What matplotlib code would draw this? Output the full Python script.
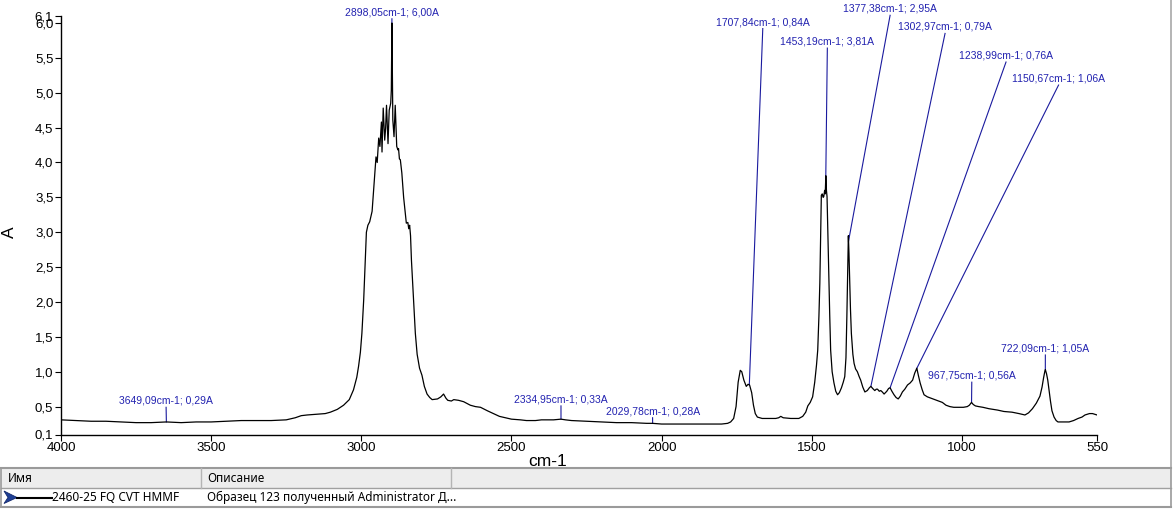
import numpy as np
import matplotlib.pyplot as plt
from matplotlib.patches import Rectangle, Polygon

# === Spectrum (cm-1, absorbance) ===
wavenumber = [
    4000, 3950, 3900, 3850, 3800, 3750, 3700, 3649, 3600, 3550, 3500, 3450, 3400, 3350,
    3300, 3250, 3220, 3200, 3180, 3150, 3120, 3103, 3080, 3059, 3040, 3026, 3015, 3009,
    3003, 2998, 2992, 2987, 2983, 2978, 2972, 2964, 2959, 2951, 2947, 2942, 2938, 2933,
    2931, 2927, 2922, 2919, 2916, 2911, 2907, 2902, 2900, 2898, 2895, 2891, 2887, 2882,
    2878, 2876, 2873, 2870, 2865, 2859, 2854, 2850, 2845, 2842, 2839, 2836, 2833, 2826,
    2820, 2814, 2806, 2798, 2790, 2781, 2772, 2764, 2746, 2735, 2726, 2718, 2712, 2700,
    2692, 2676, 2659, 2637, 2620, 2603, 2580, 2560, 2540, 2520, 2500, 2470, 2450, 2420,
    2400, 2380, 2360, 2335, 2320, 2300, 2250, 2200, 2150, 2100, 2050, 2030, 2000, 1950,
    1900, 1850, 1800, 1780, 1770, 1760, 1752, 1745, 1738, 1733, 1726, 1718, 1712, 1707,
    1700, 1694, 1688, 1681, 1665, 1640, 1620, 1610, 1603, 1595, 1570, 1543, 1530, 1520,
    1513, 1505, 1497, 1490, 1484, 1480, 1476, 1473, 1470, 1468, 1465, 1462, 1460, 1457,
    1455, 1453, 1451, 1449, 1447, 1444, 1440, 1437, 1432, 1426, 1420, 1414, 1408, 1401,
    1395, 1390, 1386, 1383, 1380, 1378, 1376, 1374, 1371, 1368, 1363, 1359, 1354, 1348,
    1342, 1337, 1330, 1323, 1315, 1308, 1303, 1297, 1290, 1285, 1281, 1275, 1270, 1265,
    1259, 1250, 1244, 1239, 1233, 1226, 1219, 1212, 1205, 1198, 1190, 1181, 1172, 1164,
    1157, 1150, 1145, 1139, 1132, 1126, 1115, 1103, 1090, 1077, 1065, 1053, 1040, 1027,
    1010, 995, 982, 975, 968, 962, 955, 944, 930, 910, 881, 860, 833, 810,
    790, 778, 765, 752, 740, 733, 728, 724, 722, 718, 714, 710, 705, 700,
    693, 686, 680, 665, 643, 628, 613, 600, 590, 575, 565, 550,
]
absorbance = [
    0.31, 0.30, 0.29, 0.29, 0.28, 0.27, 0.27, 0.28, 0.27, 0.28, 0.28, 0.29, 0.30, 0.30,
    0.30, 0.31, 0.34, 0.37, 0.38, 0.39, 0.40, 0.42, 0.46, 0.52, 0.60, 0.74, 0.92, 1.08,
    1.28, 1.55, 2.03, 2.55, 3.00, 3.10, 3.15, 3.30, 3.60, 4.08, 4.00, 4.35, 4.23, 4.58,
    4.15, 4.78, 4.32, 4.49, 4.82, 4.27, 4.75, 4.85, 5.04, 6.00, 4.61, 4.37, 4.82, 4.23,
    4.18, 4.20, 4.05, 4.04, 3.85, 3.50, 3.30, 3.13, 3.14, 3.05, 3.10, 2.95, 2.60, 2.05,
    1.55, 1.25, 1.05, 0.95, 0.79, 0.68, 0.63, 0.60, 0.61, 0.64, 0.68, 0.62, 0.59, 0.58,
    0.60, 0.59, 0.57, 0.52, 0.50, 0.49, 0.44, 0.40, 0.36, 0.34, 0.32, 0.31, 0.30, 0.30,
    0.31, 0.31, 0.31, 0.32, 0.31, 0.30, 0.29, 0.28, 0.27, 0.27, 0.26, 0.26, 0.25, 0.25,
    0.25, 0.25, 0.25, 0.26, 0.28, 0.33, 0.50, 0.85, 1.02, 1.00, 0.88, 0.79, 0.82, 0.81,
    0.70, 0.52, 0.40, 0.35, 0.33, 0.33, 0.33, 0.34, 0.36, 0.34, 0.33, 0.33, 0.36, 0.42,
    0.51, 0.56, 0.64, 0.85, 1.10, 1.31, 1.80, 2.27, 3.00, 3.53, 3.55, 3.50, 3.51, 3.60,
    3.55, 3.81, 3.60, 3.51, 3.10, 2.56, 1.80, 1.31, 1.00, 0.84, 0.72, 0.67, 0.70, 0.77,
    0.85, 0.93, 1.20, 1.79, 2.50, 2.95, 2.70, 2.36, 1.90, 1.55, 1.25, 1.12, 1.04, 1.00,
    0.93, 0.88, 0.78, 0.71, 0.73, 0.77, 0.79, 0.76, 0.73, 0.75, 0.75, 0.72, 0.73, 0.71,
    0.68, 0.72, 0.76, 0.77, 0.72, 0.67, 0.63, 0.61, 0.65, 0.71, 0.75, 0.81, 0.84, 0.88,
    0.98, 1.05, 0.95, 0.84, 0.74, 0.67, 0.64, 0.62, 0.60, 0.58, 0.56, 0.52, 0.50, 0.49,
    0.49, 0.49, 0.50, 0.52, 0.56, 0.53, 0.51, 0.50, 0.49, 0.47, 0.45, 0.43, 0.42, 0.40,
    0.38, 0.41, 0.47, 0.55, 0.65, 0.78, 0.91, 1.00, 1.03, 0.97, 0.88, 0.75, 0.58, 0.44,
    0.35, 0.30, 0.28, 0.28, 0.28, 0.30, 0.33, 0.35, 0.38, 0.40, 0.40, 0.38,
]

# === Peak picks ===
peak_wn = [3649.09, 2898.05, 2334.95, 2029.78, 1707.84, 1453.19,
           1377.38, 1302.97, 1238.99, 1150.67, 967.75, 722.09]
peak_text = ["3649,09cm-1; 0,29A", "2898,05cm-1; 6,00A", "2334,95cm-1; 0,33A",
             "2029,78cm-1; 0,28A", "1707,84cm-1; 0,84A", "1453,19cm-1; 3,81A",
             "1377,38cm-1; 2,95A", "1302,97cm-1; 0,79A", "1238,99cm-1; 0,76A",
             "1150,67cm-1; 1,06A", "967,75cm-1; 0,56A", "722,09cm-1; 1,05A"]
# where each label leader line starts (label sits on top of it)
label_wn = [3650, 2898, 2335, 2030, 1663, 1448, 1239, 1056, 853, 678, 967, 722]
label_a = [0.49, 6.06, 0.51, 0.34, 5.92, 5.64, 6.11, 5.85, 5.44, 5.11, 0.85, 1.24]

x_ticks = [4000, 3500, 3000, 2500, 2000, 1500, 1000, 550]
y_ticks = [0.1, 0.5, 1.0, 1.5, 2.0, 2.5, 3.0, 3.5, 4.0, 4.5, 5.0, 5.5, 6.0, 6.1]

# === Legend table row ===
table_header = ["Имя", "Описание"]
sample_name = "2460-25 FQ CVT HMMF"
sample_desc = "Образец 123 полученный Administrator Д..."

BLUE = "#2222b0"
LINE_BLUE = "#1a1a9e"
W, H = 1175, 509

plt.rcParams['font.family'] = ['Liberation Sans', 'DejaVu Sans']

fig = plt.figure(figsize=(W / 100, H / 100), dpi=100)
ax = fig.add_axes([61 / W, (H - 434.5) / H, 1036 / W, 418.5 / H])

wn = np.array(wavenumber)
ab = np.array(absorbance)
ax.plot(wn, ab, color='black', lw=0.9, zorder=3)

# peak picks with leader lines
peak_a = np.interp(peak_wn, wn[::-1], ab[::-1])
for pw, pa, lw_, la, txt in zip(peak_wn, peak_a, label_wn, label_a, peak_text):
    ax.plot([lw_, pw], [la, pa], color=LINE_BLUE, lw=0.8, clip_on=False, zorder=2)
    ax.annotate(txt, xy=(lw_, la), xytext=(0, 2.5), textcoords='offset points',
                ha='center', va='baseline', fontsize=7.5, color=BLUE,
                annotation_clip=False)

ax.set_xlim(4000, 550)
ax.set_ylim(0.1, 6.1)
ax.set_xticks(x_ticks)
ax.set_xticklabels([str(t) for t in x_ticks])
ax.set_yticks(y_ticks)
ax.set_yticklabels([f"{t:.1f}".replace('.', ',') for t in y_ticks])
ax.tick_params(labelsize=9.5, length=4, width=0.8, pad=1.5, colors='black')
for side in ['top', 'right']:
    ax.spines[side].set_visible(False)
for side in ['left', 'bottom']:
    ax.spines[side].set_linewidth(1.0)

ax.set_xlabel("cm-1", fontsize=12.5, va='top')
ax.xaxis.set_label_coords((548 - 61) / 1036, -(453.5 - 434.5) / 418.5)
ax.set_ylabel("A", fontsize=12.5)
ax.yaxis.set_label_coords(-(61 - 17) / 1036, (434.5 - 232) / 418.5)

# === window frame + legend table drawn in pixel space ===
ov = fig.add_axes([0, 0, 1, 1], zorder=5)
ov.set_xlim(0, W)
ov.set_ylim(H, 0)
ov.axis('off')

ov.plot([1171, 1171], [0, 468], color='#a8a8a8', lw=1.2)
ov.add_patch(Rectangle((1, 468), 1170, 19.5, facecolor='#ededed', edgecolor='none'))
ov.plot([1, 1171], [468, 468], color='#9a9a9a', lw=1.5)
ov.plot([1, 1171], [487.5, 487.5], color='#a0a0a0', lw=1.0)
ov.plot([1, 1171], [507, 507], color='#9a9a9a', lw=1.5)
ov.plot([1, 1], [468, 507], color='#9a9a9a', lw=1.2)
ov.plot([1171, 1171], [468, 507], color='#9a9a9a', lw=1.2)
for cx in [200.5, 450.5]:
    ov.plot([cx, cx], [468, 487.5], color='#b4b4b4', lw=1.0)

tfont = ['Noto Sans', 'DejaVu Sans']
ov.text(8, 478, table_header[0], fontsize=8.5, family=tfont, va='center', ha='left')
ov.text(207, 478, table_header[1], fontsize=8.5, family=tfont, va='center', ha='left')

# selected-row marker and legend line
ov.add_patch(Polygon([(4, 491), (17, 497.5), (4, 503.5), (8, 497.5)],
                     closed=True, facecolor='#1f3f96', edgecolor='#142a6e', lw=0.6))
ov.plot([17, 52], [497.5, 497.5], color='black', lw=1.5)
ov.text(52, 497.5, sample_name, fontsize=8.5, family=tfont, va='center', ha='left')
ov.text(207, 497.5, sample_desc, fontsize=8.5, family=tfont, va='center', ha='left')

fig.savefig("out.png", dpi=100)
